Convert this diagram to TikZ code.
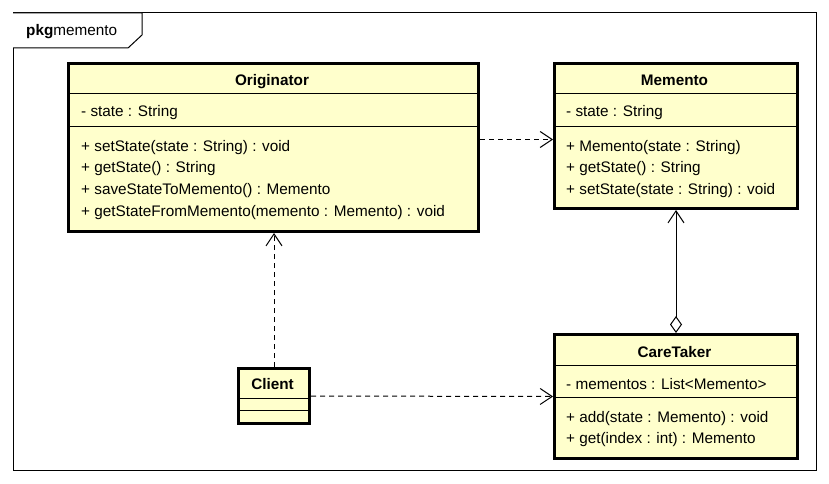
\documentclass[tikz,border=0pt]{standalone}
\usepackage{fontspec}
\setmainfont{Liberation Sans}
\usetikzlibrary{positioning, arrows.meta}
\definecolor{classfill}{HTML}{FFFFCC}

\begin{document}
\begin{tikzpicture}[x=1pt, y=-1pt, font=\fontsize{15.3}{18}\selectfont,
		cls/.style={draw, line width=3pt, fill=classfill, anchor=north west, inner sep=0pt},
		h/.style={font=\fontsize{15.3}{18}\selectfont\bfseries, inner sep=0pt, text height=11pt, text depth=3pt},
		t/.style={anchor=west, inner sep=0pt, text height=11pt, text depth=3pt},
		sep/.style={line width=1pt},
		dep/.style={dashed, dash pattern=on 5pt off 4pt, line width=1pt, -{Straight Barb[length=12pt, width=16pt]}}]
		\useasboundingbox (0,0) rectangle (829,484);

		% package frame
		\draw[line width=1pt] (13,13) rectangle (816,470);
		\draw[line width=1pt, fill=white] (13,13) -- (142,13) -- (142,35) -- (128,48) -- (13,48);
		\node[t] (pkg) at (26,32) {\textbf{pkg}memento};

		% classes
		\node[cls, minimum width=410pt, minimum height=168pt] (originator) at (67,62) {};
		\node[cls, minimum width=243pt, minimum height=145pt] (memento) at (553,62) {};
		\node[cls, minimum width=243pt, minimum height=124pt] (caretaker) at (553,333) {};
		\node[cls, minimum width=71pt, minimum height=55pt] (client) at (237,367) {};

		\draw[sep] ([yshift=-32pt]originator.north west) -- ([yshift=-32pt]originator.north east);
		\draw[sep] ([yshift=-64pt]originator.north west) -- ([yshift=-64pt]originator.north east);
		\draw[sep] ([yshift=-32pt]memento.north west) -- ([yshift=-32pt]memento.north east);
		\draw[sep] ([yshift=-64pt]memento.north west) -- ([yshift=-64pt]memento.north east);
		\draw[sep] ([yshift=-32pt]caretaker.north west) -- ([yshift=-32pt]caretaker.north east);
		\draw[sep] ([yshift=-64pt]caretaker.north west) -- ([yshift=-64pt]caretaker.north east);
		\draw[sep] ([yshift=-31pt]client.north west) -- ([yshift=-31pt]client.north east);
		\draw[sep] ([yshift=-43pt]client.north west) -- ([yshift=-43pt]client.north east);

		\node[h] (originator-name) at (272,82) {Originator};
		\node[t] (originator-a1) at (81,113) {- state : String};
		\node[t] (originator-m1) at (81,147) {+ setState(state : String) : void};
		\node[t] (originator-m2) at (81,168) {+ getState() : String};
		\node[t] (originator-m3) at (81,190) {+ saveStateToMemento() : Memento};
		\node[t] (originator-m4) at (81,212) {+ getStateFromMemento(memento : Memento) : void};

		\node[h] (memento-name) at (674.5,82) {Memento};
		\node[t] (memento-a1) at (566,113) {- state : String};
		\node[t] (memento-m1) at (566,147) {+ Memento(state : String)};
		\node[t] (memento-m2) at (566,168) {+ getState() : String};
		\node[t] (memento-m3) at (566,190) {+ setState(state : String) : void};

		\node[h] (caretaker-name) at (674.5,353) {CareTaker};
		\node[t] (caretaker-a1) at (566,385) {- mementos : List<Memento>};
		\node[t] (caretaker-m1) at (566,418) {+ add(state : Memento) : void};
		\node[t] (caretaker-m2) at (566,439) {+ get(index : int) : Memento};

		\node[h] (client-name) at (272.5,385) {Client};

		% relations
		\draw[dep] ([yshift=8pt]originator.east) -- ([yshift=-3.5pt]memento.west);
		\draw[dep] (client.north) -- (client.north |- originator.south);
		\draw[dep] (client.east) -- (caretaker.west);
		\draw[line width=1pt, {Straight Barb[length=12pt, width=16pt]}-{Diamond[fill=white, length=17pt, width=12pt]}] (memento.south) -- (caretaker.north);
	\end{tikzpicture}
\end{document}
